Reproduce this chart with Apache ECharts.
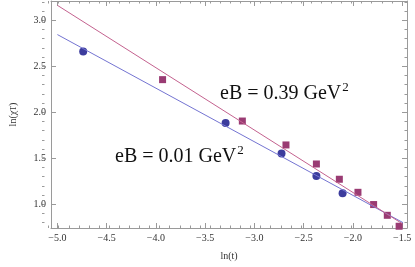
<!DOCTYPE html>
<html>
<head>
<meta charset="utf-8">
<script src="https://cdn.jsdelivr.net/npm/echarts@6/dist/echarts.min.js"></script>
<style>html,body{margin:0;padding:0;background:#fff}#c{width:415px;height:267px}</style>
</head>
<body>
<div id="c"></div>
<script>
// Data
const blueX = [-4.738, -3.292, -2.724, -2.370, -2.104];
const blueY = [2.660, 1.883, 1.551, 1.308, 1.120];
const pinkX = [-3.932, -3.122, -2.679, -2.370, -2.137, -1.948, -1.789, -1.650, -1.530];
const pinkY = [2.355, 1.905, 1.645, 1.438, 1.272, 1.130, 0.997, 0.880, 0.761];
const blueFitX = [-5.0, -1.49];
const blueFitY = [2.845, 0.800];
const pinkFitX = [-5.0, -1.50];
const pinkFitY = [3.163, 0.790];
const xMajor = [-5.0, -4.5, -4.0, -3.5, -3.0, -2.5, -2.0, -1.5];
const yMajor = [1.0, 1.5, 2.0, 2.5, 3.0];
const xMinor = [];
for (let i = -50; i <= -15; i++) xMinor.push(i / 10);
const yMinor = [];
for (let i = 8; i <= 32; i++) yMinor.push(i / 10);
const labelA = 'eB = 0.39 GeV';
const labelB = 'eB = 0.01 GeV';
const supText = '2';

const XMIN = -5.065, XMAX = -1.45, YMIN = 0.742, YMAX = 3.21;
const FONT = 'Liberation Serif';
const frame = '#9a9a9a';
const fmt = v => v.toFixed(1).replace('-', '\u2212');

function xAx(grid, pos, vals, len, labels, extra) {
  return Object.assign({
    type: 'value', gridIndex: grid, position: pos, min: XMIN, max: XMAX,
    axisLine: {show: grid === 0, lineStyle: {color: frame, width: 1}},
    axisTick: {show: true, inside: true, length: len, customValues: vals, lineStyle: {color: frame}},
    axisLabel: labels ? {show: true, customValues: vals, formatter: fmt, fontFamily: FONT, fontSize: 10, color: '#333', margin: 5} : {show: false},
    splitLine: {show: false}
  }, extra || {});
}
function yAx(grid, pos, vals, len, labels, extra) {
  return Object.assign({
    type: 'value', gridIndex: grid, position: pos, min: YMIN, max: YMAX,
    axisLine: {show: grid === 0, lineStyle: {color: frame, width: 1}},
    axisTick: {show: true, inside: true, length: len, customValues: vals, lineStyle: {color: frame}},
    axisLabel: labels ? {show: true, customValues: vals, formatter: fmt, fontFamily: FONT, fontSize: 10, color: '#333', margin: 5} : {show: false},
    splitLine: {show: false}
  }, extra || {});
}

const mainFont = '20px "' + FONT + '"';
const supFont = '13px "' + FONT + '"';
const ctx = document.createElement('canvas').getContext('2d');
ctx.font = mainFont;
const wA = ctx.measureText(labelA).width;
const wB = ctx.measureText(labelB).width;

function annot(text, w, left, top) {
  return [
    {type: 'text', left: left, top: top, style: {text: text, font: mainFont, fill: '#111'}},
    {type: 'text', left: left + w + 1, top: top - 3, style: {text: supText, font: supFont, fill: '#111'}}
  ];
}

const gridBox = {left: 42, right: 8, top: 1, bottom: 39};
const chart = echarts.init(document.getElementById('c'), null, {renderer: 'canvas'});
chart.setOption({
  animation: false,
  backgroundColor: '#fff',
  grid: [Object.assign({}, gridBox), Object.assign({}, gridBox)],
  xAxis: [
    xAx(0, 'bottom', xMajor, 5, true, {name: 'ln(t)', nameLocation: 'middle', nameGap: 23,
      nameTextStyle: {fontFamily: FONT, fontSize: 10, color: '#333'}}),
    xAx(0, 'top', xMajor, 5, false),
    xAx(1, 'bottom', xMinor, 2.5, false),
    xAx(1, 'top', xMinor, 2.5, false)
  ],
  yAxis: [
    yAx(0, 'left', yMajor, 5, true, {name: 'ln(\u03c7{s|T})', nameLocation: 'middle', nameGap: 33, nameRotate: 90,
      nameTextStyle: {fontFamily: FONT, fontSize: 10, color: '#333',
        rich: {s: {fontFamily: FONT, fontSize: 8, color: '#333', verticalAlign: 'bottom'}}}}),
    yAx(0, 'right', yMajor, 5, false),
    yAx(1, 'left', yMinor, 2.5, false),
    yAx(1, 'right', yMinor, 2.5, false)
  ],
  series: [
    {type: 'line', xAxisIndex: 0, yAxisIndex: 0, symbol: 'none', silent: true,
      data: blueFitX.map((x, i) => [x, blueFitY[i]]), lineStyle: {color: '#7474d2', width: 1}},
    {type: 'line', xAxisIndex: 0, yAxisIndex: 0, symbol: 'none', silent: true,
      data: pinkFitX.map((x, i) => [x, pinkFitY[i]]), lineStyle: {color: '#c4628f', width: 1}},
    {type: 'scatter', xAxisIndex: 0, yAxisIndex: 0, symbol: 'circle', symbolSize: 8,
      data: blueX.map((x, i) => [x, blueY[i]]), itemStyle: {color: '#3c3c9d', opacity: 1}},
    {type: 'scatter', xAxisIndex: 0, yAxisIndex: 0, symbol: 'rect', symbolSize: 7,
      data: pinkX.map((x, i) => [x, pinkY[i]]), itemStyle: {color: '#9a3b73', opacity: 1}}
  ],
  graphic: annot(labelA, wA, 220, 84).concat(annot(labelB, wB, 115, 147))
});
</script>
</body>
</html>
